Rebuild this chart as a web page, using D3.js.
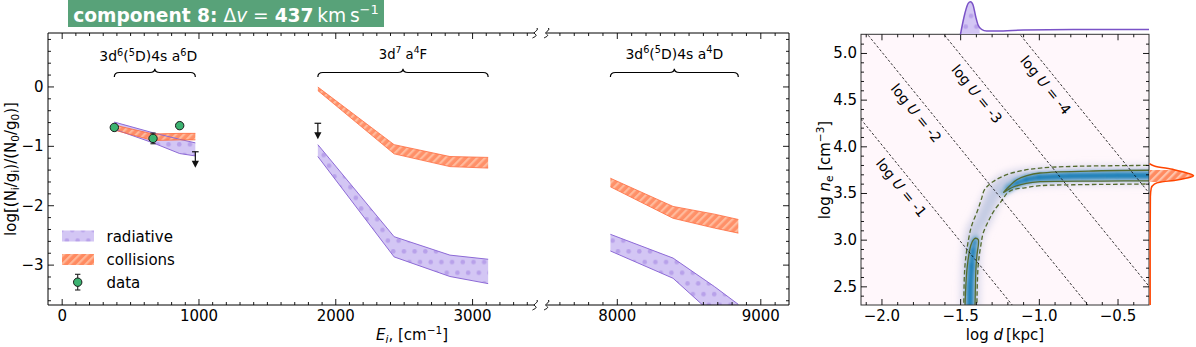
<!DOCTYPE html>
<html><head><meta charset="utf-8">
<script src="https://cdn.jsdelivr.net/npm/d3@7"></script>
<style>body{margin:0;background:#fff}svg{font-family:"DejaVu Sans",sans-serif}</style>
</head><body>
<svg id="c" width="1196" height="347"></svg>
<script>
// ---------------- data ----------------
const levelsA = [384.79, 667.68, 862.61, 977.05];      // 3d6(5D)4s a6D
const levelsB = [1872.60, 2430.14, 2837.98, 3117.46];  // 3d7 a4F
const levelsC = [7955.32, 8391.94, 8680.45, 8846.77];  // 3d6(5D)4s a4D
const radA_hi = [-0.60, -0.78, -0.89, -0.95];
const radA_lo = [-0.72, -0.95, -1.13, -1.17];
const colA_hi = [-0.65, -0.80, -0.79, -0.79];
const colA_lo = [-0.735, -0.91, -0.90, -0.90];
const radB_hi = [-0.98, -2.53, -2.84, -2.91];
const radB_lo = [-1.18, -2.87, -3.20, -3.32];
const colB_hi = [-0.01, -0.98, -1.18, -1.195];
const colB_lo = [-0.07, -1.135, -1.35, -1.375];
const radC_hi = [-2.49, -2.89, -3.37, -3.67];
const radC_lo = [-2.77, -3.23, -3.86, -4.15];
const colC_hi = [-1.545, -2.02, -2.15, -2.24];
const colC_lo = [-1.69, -2.22, -2.385, -2.47];
const obsE = [384.79, 667.68, 862.61];
const obsV = [-0.69, -0.875, -0.66];
const obsErr = [0.03, 0.09, 0.05];
const limE = [977.05, 1872.60];
const limV = [-1.10, -0.62];
const xMajor1 = [0, 1000, 2000, 3000];
const xMajor2 = [8000, 9000];
const yMajorL = [-3, -2, -1, 0];
// right panel
const logUvals = [-1, -2, -3, -4];
const logUint = [-0.12, 0.875, 1.88, 2.88];
const logUslope = -2.07;
const logUlabN = [3.637, 4.437, 4.642, 4.737];
const outerTopD = [-1.477, -1.470, -1.447, -1.425, -1.390, -1.364, -1.345, -1.289, -1.204, -1.098, -0.992, -0.780, -0.25];
const outerTopN = [2.25, 2.71, 3.00, 3.16, 3.31, 3.44, 3.535, 3.624, 3.696, 3.742, 3.767, 3.785, 3.796];
const outerBotD = [-1.394, -1.386, -1.368, -1.353, -1.320, -1.286, -1.236, -1.204, -1.164, -1.098, -0.992, -0.780, -0.25];
const outerBotN = [2.25, 2.71, 2.945, 3.074, 3.20, 3.306, 3.418, 3.493, 3.536, 3.553, 3.578, 3.588, 3.597];
const innerUpD = [-0.25, -0.6, -0.992, -1.076, -1.140, -1.184, -1.225, -1.196, -1.162, -1.08, -0.992, -0.6, -0.25];
const innerUpN = [3.744, 3.738, 3.714, 3.685, 3.642, 3.578, 3.506, 3.535, 3.564, 3.603, 3.621, 3.628, 3.631];
const innerLowD = [-1.470, -1.455, -1.431, -1.415, -1.403, -1.385, -1.393, -1.399, -1.406];
const innerLowN = [2.25, 2.71, 2.946, 3.00, 3.015, 3.00, 2.838, 2.71, 2.25];
const haloD = [-1.437, -1.432, -1.420, -1.400, -1.366, -1.330, -1.300, -1.267, -1.225, -1.160, -1.080, -0.95, -0.7, -0.2];
const haloN = [2.20, 2.70, 2.95, 3.10, 3.20, 3.33, 3.44, 3.535, 3.595, 3.64, 3.665, 3.68, 3.69, 3.695];
const coreUpD = [-1.225, -1.19, -1.14, -1.08, -1.0, -0.8, -0.5, -0.2];
const coreUpN = [3.506, 3.555, 3.607, 3.644, 3.667, 3.683, 3.686, 3.688];
const coreUpW = [0.1, 0.4, 0.7, 0.85, 0.95, 1.0, 1.0, 1.0];
const coreLowD = [-1.438, -1.436, -1.427, -1.418, -1.408, -1.402];
const coreLowN = [2.20, 2.50, 2.72, 2.88, 2.97, 3.01];
const coreLowW = [1.0, 1.0, 0.9, 0.7, 0.4, 0.1];
const topMargD = [-1.498, -1.470, -1.449, -1.434, -1.418, -1.401, -1.386, -1.364, -1.332, -1.269, -1.099, -0.782, -0.30];
const topMargP = [0.0, 0.64, 0.95, 1.0, 0.90, 0.54, 0.285, 0.15, 0.10, 0.10, 0.13, 0.15, 0.15];
const topFill = [-1.498, -1.376];
const rightMargN = [3.815, 3.79, 3.75, 3.715, 3.685, 3.66, 3.635, 3.617, 3.596, 3.553, 3.46, 3.0, 2.3];
const rightMargP = [0.0, 0.11, 0.56, 0.85, 1.0, 0.85, 0.56, 0.26, 0.11, 0.04, 0.02, 0.015, 0.015];
const rightFill = [3.745, 3.617];
const xMajorR = [-2.0, -1.5, -1.0, -0.5];
const yMajorR = [2.5, 3.0, 3.5, 4.0, 4.5, 5.0];

// ---------------- setup ----------------
const svg = d3.select('#c');
const defs = svg.append('defs');
const FONT = 'DejaVu Sans';

const dots = defs.append('pattern').attr('id','dots').attr('patternUnits','userSpaceOnUse').attr('width',10.7).attr('height',21.4);
dots.append('rect').attr('width',10.7).attr('height',21.4).attr('fill','#d3c6f4');
[[2.7,5.3],[8.05,16]].forEach(([cx,cy])=>dots.append('circle').attr('cx',cx).attr('cy',cy).attr('r',2.3).attr('fill','#b8a1ea'));
function stripePat(id, bg, fg){
  const p = defs.append('pattern').attr('id',id).attr('patternUnits','userSpaceOnUse').attr('width',5.6).attr('height',5.6).attr('patternTransform','rotate(45)');
  p.append('rect').attr('width',5.6).attr('height',5.6).attr('fill',bg);
  p.append('rect').attr('width',2.2).attr('height',5.6).attr('fill',fg);
}
stripePat('stripes','#ff8a60','#ffb797');
stripePat('stripes2','#ff8a60','#ffc3aa');
function blur(id, s){
  defs.append('filter').attr('id',id).attr('filterUnits','userSpaceOnUse').attr('x',0).attr('y',0).attr('width',1196).attr('height',347)
    .append('feGaussianBlur').attr('stdDeviation',s);
}
blur('b35',3.5); blur('b25',2.5); blur('b15',1.5); blur('b1',1.0);

function rich(sel, parts, fs){
  let shift = 0;
  parts.forEach(p=>{
    const t = sel.append('tspan').text(p.t);
    let target = p.sup ? -0.38*fs : (p.sub ? 0.2*fs : 0);
    const dy = target - shift;
    if (dy !== 0) t.attr('dy', dy);
    shift = target;
    if (p.sup || p.sub) t.attr('font-size', 0.7*fs);
    if (p.b) t.attr('font-weight','bold');
    if (p.i) t.attr('font-style','italic');
  });
  return sel;
}
function fitRich(sel, parts, fs0, width){
  rich(sel, parts, fs0);
  const w = sel.node().getComputedTextLength();
  const fs = fs0*width/w;
  sel.selectAll('tspan').remove();
  sel.attr('font-size', fs);
  rich(sel, parts, fs);
  return sel;
}

function drawAxis(parent, orient, scale, majors, minors, tr, fmt, pad){
  const mk = {bottom:d3.axisBottom, top:d3.axisTop, left:d3.axisLeft, right:d3.axisRight}[orient];
  const gm = parent.append('g').attr('transform',tr).call(mk(scale).tickValues(minors).tickSize(-3).tickFormat(''));
  const gM = parent.append('g').attr('transform',tr).call(mk(scale).tickValues(majors).tickSize(-6).tickPadding(pad||4).tickFormat(fmt||''));
  [gm,gM].forEach(g=>{ g.select('.domain').remove(); g.selectAll('line').attr('stroke','#000').attr('stroke-width',0.9); });
  gM.selectAll('text').attr('font-size',15).attr('font-family',FONT).attr('fill','#000');
}

// ---------------- left panel ----------------
const xs1 = d3.scaleLinear().domain([-100, 3460]).range([48, 535]);
const xs2 = d3.scaleLinear().domain([7510, 9200]).range([546.5, 789]);
const yL = d3.scaleLinear().domain([-3.68, 0.9]).range([305, 33]);
const xE = e => e < 5000 ? xs1(e) : xs2(e);

defs.append('clipPath').attr('id','clip1').append('rect').attr('x',48).attr('y',33).attr('width',487).attr('height',272);
defs.append('clipPath').attr('id','clip2').append('rect').attr('x',546.5).attr('y',33).attr('width',242.5).attr('height',272);

const left = svg.append('g');
const groups = [
  {E:levelsA, rh:radA_hi, rl:radA_lo, ch:colA_hi, cl:colA_lo, clip:'clip1'},
  {E:levelsB, rh:radB_hi, rl:radB_lo, ch:colB_hi, cl:colB_lo, clip:'clip1'},
  {E:levelsC, rh:radC_hi, rl:radC_lo, ch:colC_hi, cl:colC_lo, clip:'clip2'}
];
groups.forEach(g=>{
  const gg = left.append('g').attr('clip-path',`url(#${g.clip})`);
  const idx = d3.range(g.E.length);
  const area = (hi,lo)=>d3.area().x(i=>xE(g.E[i])).y0(i=>yL(lo[i])).y1(i=>yL(hi[i]))(idx);
  const line = arr=>d3.line().x(i=>xE(g.E[i])).y(i=>yL(arr[i]))(idx);
  gg.append('path').attr('d',area(g.rh,g.rl)).attr('fill','url(#dots)');
  gg.append('path').attr('d',area(g.ch,g.cl)).attr('fill','url(#stripes)').attr('opacity',0.95);
  [g.rh,g.rl].forEach(a=>gg.append('path').attr('d',line(a)).attr('fill','none').attr('stroke','#8d6ad6').attr('stroke-width',1));
  [g.ch,g.cl].forEach(a=>gg.append('path').attr('d',line(a)).attr('fill','none').attr('stroke','#ff6a3c').attr('stroke-width',0.8));
});

// data points
obsE.forEach((e,i)=>{
  const x = xE(e);
  left.append('line').attr('x1',x).attr('x2',x).attr('y1',yL(obsV[i]+obsErr[i])).attr('y2',yL(obsV[i]-obsErr[i])).attr('stroke','#222').attr('stroke-width',1.1);
  [obsV[i]+obsErr[i], obsV[i]-obsErr[i]].forEach(v=>left.append('line').attr('x1',x-2.6).attr('x2',x+2.6).attr('y1',yL(v)).attr('y2',yL(v)).attr('stroke','#222').attr('stroke-width',1.1));
  left.append('circle').attr('cx',x).attr('cy',yL(obsV[i])).attr('r',4.2).attr('fill','#3cb371').attr('stroke','#1a1a1a').attr('stroke-width',1);
});
// upper limits
limE.forEach((e,i)=>{
  const x = xE(e), y0 = yL(limV[i]), y1 = y0 + 16;
  left.append('line').attr('x1',x-3.3).attr('x2',x+3.3).attr('y1',y0).attr('y2',y0).attr('stroke','#111').attr('stroke-width',1.2);
  left.append('line').attr('x1',x).attr('x2',x).attr('y1',y0).attr('y2',y1-5).attr('stroke','#111').attr('stroke-width',1.2);
  left.append('path').attr('d',`M${x-3.6},${y1-7}L${x+3.6},${y1-7}L${x},${y1}Z`).attr('fill','#111');
});

// braces and labels
const groupLabels = [
  [{t:'3d'},{t:'6',sup:1},{t:'('},{t:'5',sup:1},{t:'D)4s a'},{t:'6',sup:1},{t:'D'}],
  [{t:'3d'},{t:'7',sup:1},{t:' a'},{t:'4',sup:1},{t:'F'}],
  [{t:'3d'},{t:'6',sup:1},{t:'('},{t:'5',sup:1},{t:'D)4s a'},{t:'4',sup:1},{t:'D'}]
];
const labelBase = [61, 58.5, 58.5];
const labelWidth = [98, 48.5, 98];
const labelShift = [-6.5, 0, 0];
groups.forEach((g,k)=>{
  const x0 = xE(g.E[0]), x1 = xE(g.E[g.E.length-1]), xm = (x0+x1)/2, r = 5;
  const yE = 77, yM = 72.5, yT = 68.8;
  left.append('path').attr('d',
    `M${x0},${yE}Q${x0},${yM} ${x0+r},${yM}L${xm-r},${yM}Q${xm},${yM} ${xm},${yT}Q${xm},${yM} ${xm+r},${yM}L${x1-r},${yM}Q${x1},${yM} ${x1},${yE}`)
    .attr('fill','none').attr('stroke','#000').attr('stroke-width',1.2);
  const t = left.append('text').attr('x',xm+labelShift[k]).attr('y',labelBase[k]).attr('text-anchor','middle').attr('font-size',13.8).attr('font-family',FONT);
  fitRich(t, groupLabels[k], 13.8, labelWidth[k]);
});

// spines
const spine = (x1,y1,x2,y2)=>left.append('line').attr('x1',x1).attr('y1',y1).attr('x2',x2).attr('y2',y2).attr('stroke','#000').attr('stroke-width',1);
spine(48,33,535,33); spine(48,305,535,305); spine(546.5,33,789,33); spine(546.5,305,789,305);
spine(48,33,48,305); spine(789,33,789,305);
[535, 546.5].forEach(x=>[33,305].forEach(y=>{
  left.append('path').attr('d',`M${x+2},${y-5}C${x+4},${y-2} ${x-3},${y-1} ${x},${y+1}S${x-1},${y+4} ${x-2.5},${y+5}`)
    .attr('fill','none').attr('stroke','#000').attr('stroke-width',1);
}));
// ticks
const minorE1 = d3.range(0, 35).map(k=>k*100).filter(v=>v%1000!==0);
const minorE2 = d3.range(76, 92).map(k=>k*100).filter(v=>v%1000!==0);
const minorYL = d3.range(-18, 5).filter(k=>k%5!==0).map(k=>+(k*0.2).toFixed(2));
const fmtInt = d3.format('d');
drawAxis(left,'bottom',xs1,xMajor1,minorE1,'translate(0,305)',fmtInt,5);
drawAxis(left,'top',xs1,xMajor1,minorE1,'translate(0,33)');
drawAxis(left,'bottom',xs2,xMajor2,minorE2,'translate(0,305)',fmtInt,5);
drawAxis(left,'top',xs2,xMajor2,minorE2,'translate(0,33)');
drawAxis(left,'left',yL,yMajorL,minorYL,'translate(48,0)',fmtInt,4.5);
drawAxis(left,'right',yL,yMajorL,minorYL,'translate(789,0)');

// axis labels
rich(left.append('text').attr('transform','translate(16,169) rotate(-90)').attr('text-anchor','middle').attr('font-size',15).attr('font-family',FONT),
  [{t:'log[(N'},{t:'i',sub:1},{t:'/g'},{t:'i',sub:1},{t:')/(N'},{t:'0',sub:1},{t:'/g'},{t:'0',sub:1},{t:')]'}],15);
rich(left.append('text').attr('x',412).attr('y',339.5).attr('text-anchor','middle').attr('font-size',15).attr('font-family',FONT),
  [{t:'E',i:1},{t:'i',sub:1,i:1},{t:', [cm'},{t:'\u22121',sup:1},{t:']'}],15);

// legend
const lg = left.append('g');
lg.append('rect').attr('x',62).attr('y',230.5).attr('width',32).attr('height',11).attr('fill','url(#dots)');
lg.append('rect').attr('x',62).attr('y',254).attr('width',32).attr('height',11).attr('fill','url(#stripes)');
lg.append('line').attr('x1',77.7).attr('x2',77.7).attr('y1',274.3).attr('y2',290).attr('stroke','#222').attr('stroke-width',1.1);
[274.3,290].forEach(y=>lg.append('line').attr('x1',75).attr('x2',80.4).attr('y1',y).attr('y2',y).attr('stroke','#222').attr('stroke-width',1.1));
lg.append('circle').attr('cx',77.7).attr('cy',282.2).attr('r',4.2).attr('fill','#3cb371').attr('stroke','#1a1a1a');
[['radiative',241.5],['collisions',265],['data',288.3]].forEach(([t,y])=>
  lg.append('text').attr('x',106.5).attr('y',y).attr('font-size',15).attr('font-family',FONT).text(t));

// title box
const tb = svg.append('g');
tb.append('rect').attr('x',68).attr('y',-2).attr('width',316).attr('height',29).attr('fill','#58a279');
const title = tb.append('text').attr('x',226).attr('y',21.5).attr('text-anchor','middle').attr('fill','#fff').attr('font-family',FONT).attr('font-size',20);
fitRich(title,[{t:'component 8:',b:1},{t:' \u0394'},{t:'v',i:1},{t:' = '},{t:'437',b:1},{t:'\u2009km\u2009s'},{t:'\u22121',sup:1}],20,306);

// ---------------- right panel ----------------
const xr = d3.scaleLinear().domain([-2.13, -0.3]).range([861, 1149]);
const yr = d3.scaleLinear().domain([2.3, 5.2]).range([305, 34.3]);
defs.append('clipPath').attr('id','clipR').append('rect').attr('x',861).attr('y',34.3).attr('width',288).attr('height',270.7);
const right = svg.append('g');
right.append('rect').attr('x',861).attr('y',34.3).attr('width',288).attr('height',270.7).attr('fill',d3.interpolatePuBu(0));
const rc = right.append('g').attr('clip-path','url(#clipR)');
const lineDN = (D,N,curve)=>d3.line().x(i=>xr(D[i])).y(i=>yr(N[i])).curve(curve||d3.curveCatmullRom)(d3.range(D.length));
// halo
rc.append('path').attr('d',lineDN(haloD,haloN)).attr('fill','none').attr('stroke',d3.interpolatePuBu(0.2)).attr('stroke-width',20).attr('filter','url(#b35)');
rc.append('path').attr('d',lineDN(haloD,haloN)).attr('fill','none').attr('stroke',d3.interpolatePuBu(0.28)).attr('stroke-width',9).attr('filter','url(#b25)');
// cores
function core(D,N,W){
  const g1 = rc.append('g').attr('filter','url(#b15)');
  const g2 = rc.append('g').attr('filter','url(#b1)');
  for(let i=0;i<D.length-1;i++){
    const w = (W[i]+W[i+1])/2;
    const seg = [[D[i],N[i]],[D[i+1],N[i+1]]];
    const d = d3.line().x(p=>xr(p[0])).y(p=>yr(p[1]))(seg);
    g1.append('path').attr('d',d).attr('stroke',d3.interpolatePuBu(0.52)).attr('stroke-width',10).attr('stroke-opacity',w).attr('stroke-linecap','round').attr('fill','none');
    g2.append('path').attr('d',d).attr('stroke',d3.interpolatePuBu(0.68)).attr('stroke-width',4.5).attr('stroke-opacity',w).attr('stroke-linecap','round').attr('fill','none');
  }
}
core(coreUpD,coreUpN,coreUpW);
core(coreLowD,coreLowN,coreLowW);
// contours
const cc = '#556b2f';
rc.append('path').attr('d',lineDN(outerTopD,outerTopN)).attr('fill','none').attr('stroke',cc).attr('stroke-width',1.3).attr('stroke-dasharray','4.5,2.5');
rc.append('path').attr('d',lineDN(outerBotD,outerBotN)).attr('fill','none').attr('stroke',cc).attr('stroke-width',1.3).attr('stroke-dasharray','4.5,2.5');
rc.append('path').attr('d',lineDN(innerUpD,innerUpN)).attr('fill','none').attr('stroke',cc).attr('stroke-width',1.3);
rc.append('path').attr('d',lineDN(innerLowD,innerLowN)).attr('fill','none').attr('stroke',cc).attr('stroke-width',1.3);
// log U lines
const pixSlope = -logUslope*(yr(2.3)-yr(3.3))/(xr(1)-xr(0));
const ang = Math.atan(pixSlope);
logUvals.forEach((u,k)=>{
  const C = logUint[k];
  const dA = (C-5.6)/(-logUslope), dB = (C-1.9)/(-logUslope);
  rc.append('line').attr('x1',xr(dA)).attr('y1',yr(5.6)).attr('x2',xr(dB)).attr('y2',yr(1.9))
    .attr('stroke','#000').attr('stroke-width',0.8).attr('stroke-dasharray','2.5,2');
  const n = logUlabN[k], d = (C-n)/(-logUslope);
  const px = xr(d) - 12*Math.sin(ang), py = yr(n) + 12*Math.cos(ang);
  const t = rc.append('text').attr('transform',`translate(${px},${py}) rotate(${ang*180/Math.PI})`)
    .attr('text-anchor','middle').attr('dy','0.35em').attr('font-size',14).attr('font-family',FONT);
  rich(t,[{t:'log '},{t:'U',i:1},{t:' = '+String(u)}],14);
});
// frame
right.append('rect').attr('x',861).attr('y',34.3).attr('width',288).attr('height',270.7).attr('fill','none').attr('stroke','#333').attr('stroke-width',1);
const minorXR = d3.range(-21,-3).filter(k=>k%5!==0).map(k=>+(k*0.1).toFixed(2));
const minorYR = d3.range(24,52).filter(k=>k%5!==0).map(k=>+(k*0.1).toFixed(2));
const fmt1 = d3.format('.1f');
drawAxis(right,'bottom',xr,xMajorR,minorXR,'translate(0,305)',fmt1,5);
drawAxis(right,'top',xr,xMajorR,minorXR,'translate(0,34.3)');
drawAxis(right,'left',yr,yMajorR,minorYR,'translate(861,0)',fmt1,4);
drawAxis(right,'right',yr,yMajorR,minorYR,'translate(1149,0)');
rich(right.append('text').attr('x',1005).attr('y',339.5).attr('text-anchor','middle').attr('font-size',15).attr('font-family',FONT),
  [{t:'log '},{t:'d',i:1},{t:'\u2009[kpc]'}],15);
rich(right.append('text').attr('transform','translate(830,170) rotate(-90)').attr('text-anchor','middle').attr('font-size',15).attr('font-family',FONT),
  [{t:'log '},{t:'n',i:1},{t:'e',sub:1},{t:' [cm'},{t:'\u22123',sup:1},{t:']'}],15);

// marginals
const ym = d3.scaleLinear().domain([0,1]).range([34.3, 1.7]);
const idxT = d3.range(topMargD.length);
defs.append('clipPath').attr('id','clipTF').append('rect').attr('x',xr(topFill[0])).attr('y',0).attr('width',xr(topFill[1])-xr(topFill[0])).attr('height',34.3);
right.append('path').attr('clip-path','url(#clipTF)')
  .attr('d',d3.area().x(i=>xr(topMargD[i])).y0(ym(0)).y1(i=>ym(topMargP[i])).curve(d3.curveMonotoneX)(idxT)).attr('fill','url(#dots)');
right.append('path').attr('d',d3.line().x(i=>xr(topMargD[i])).y(i=>ym(topMargP[i])).curve(d3.curveMonotoneX)(idxT))
  .attr('fill','none').attr('stroke','#7a52c7').attr('stroke-width',1.5);
const xm = d3.scaleLinear().domain([0,1]).range([1149.5, 1193.5]);
const idxR = d3.range(rightMargN.length);
defs.append('clipPath').attr('id','clipRF').append('rect').attr('x',1149).attr('y',yr(rightFill[0])).attr('width',50).attr('height',yr(rightFill[1])-yr(rightFill[0]));
right.append('path').attr('clip-path','url(#clipRF)')
  .attr('d',d3.area().y(i=>yr(rightMargN[i])).x0(xm(0)).x1(i=>xm(rightMargP[i])).curve(d3.curveMonotoneY)(idxR)).attr('fill','url(#stripes2)');
right.append('path').attr('d',d3.line().y(i=>yr(rightMargN[i])).x(i=>xm(rightMargP[i])).curve(d3.curveMonotoneY)(idxR))
  .attr('fill','none').attr('stroke','#ff4500').attr('stroke-width',1.5);
</script>
</body></html>
